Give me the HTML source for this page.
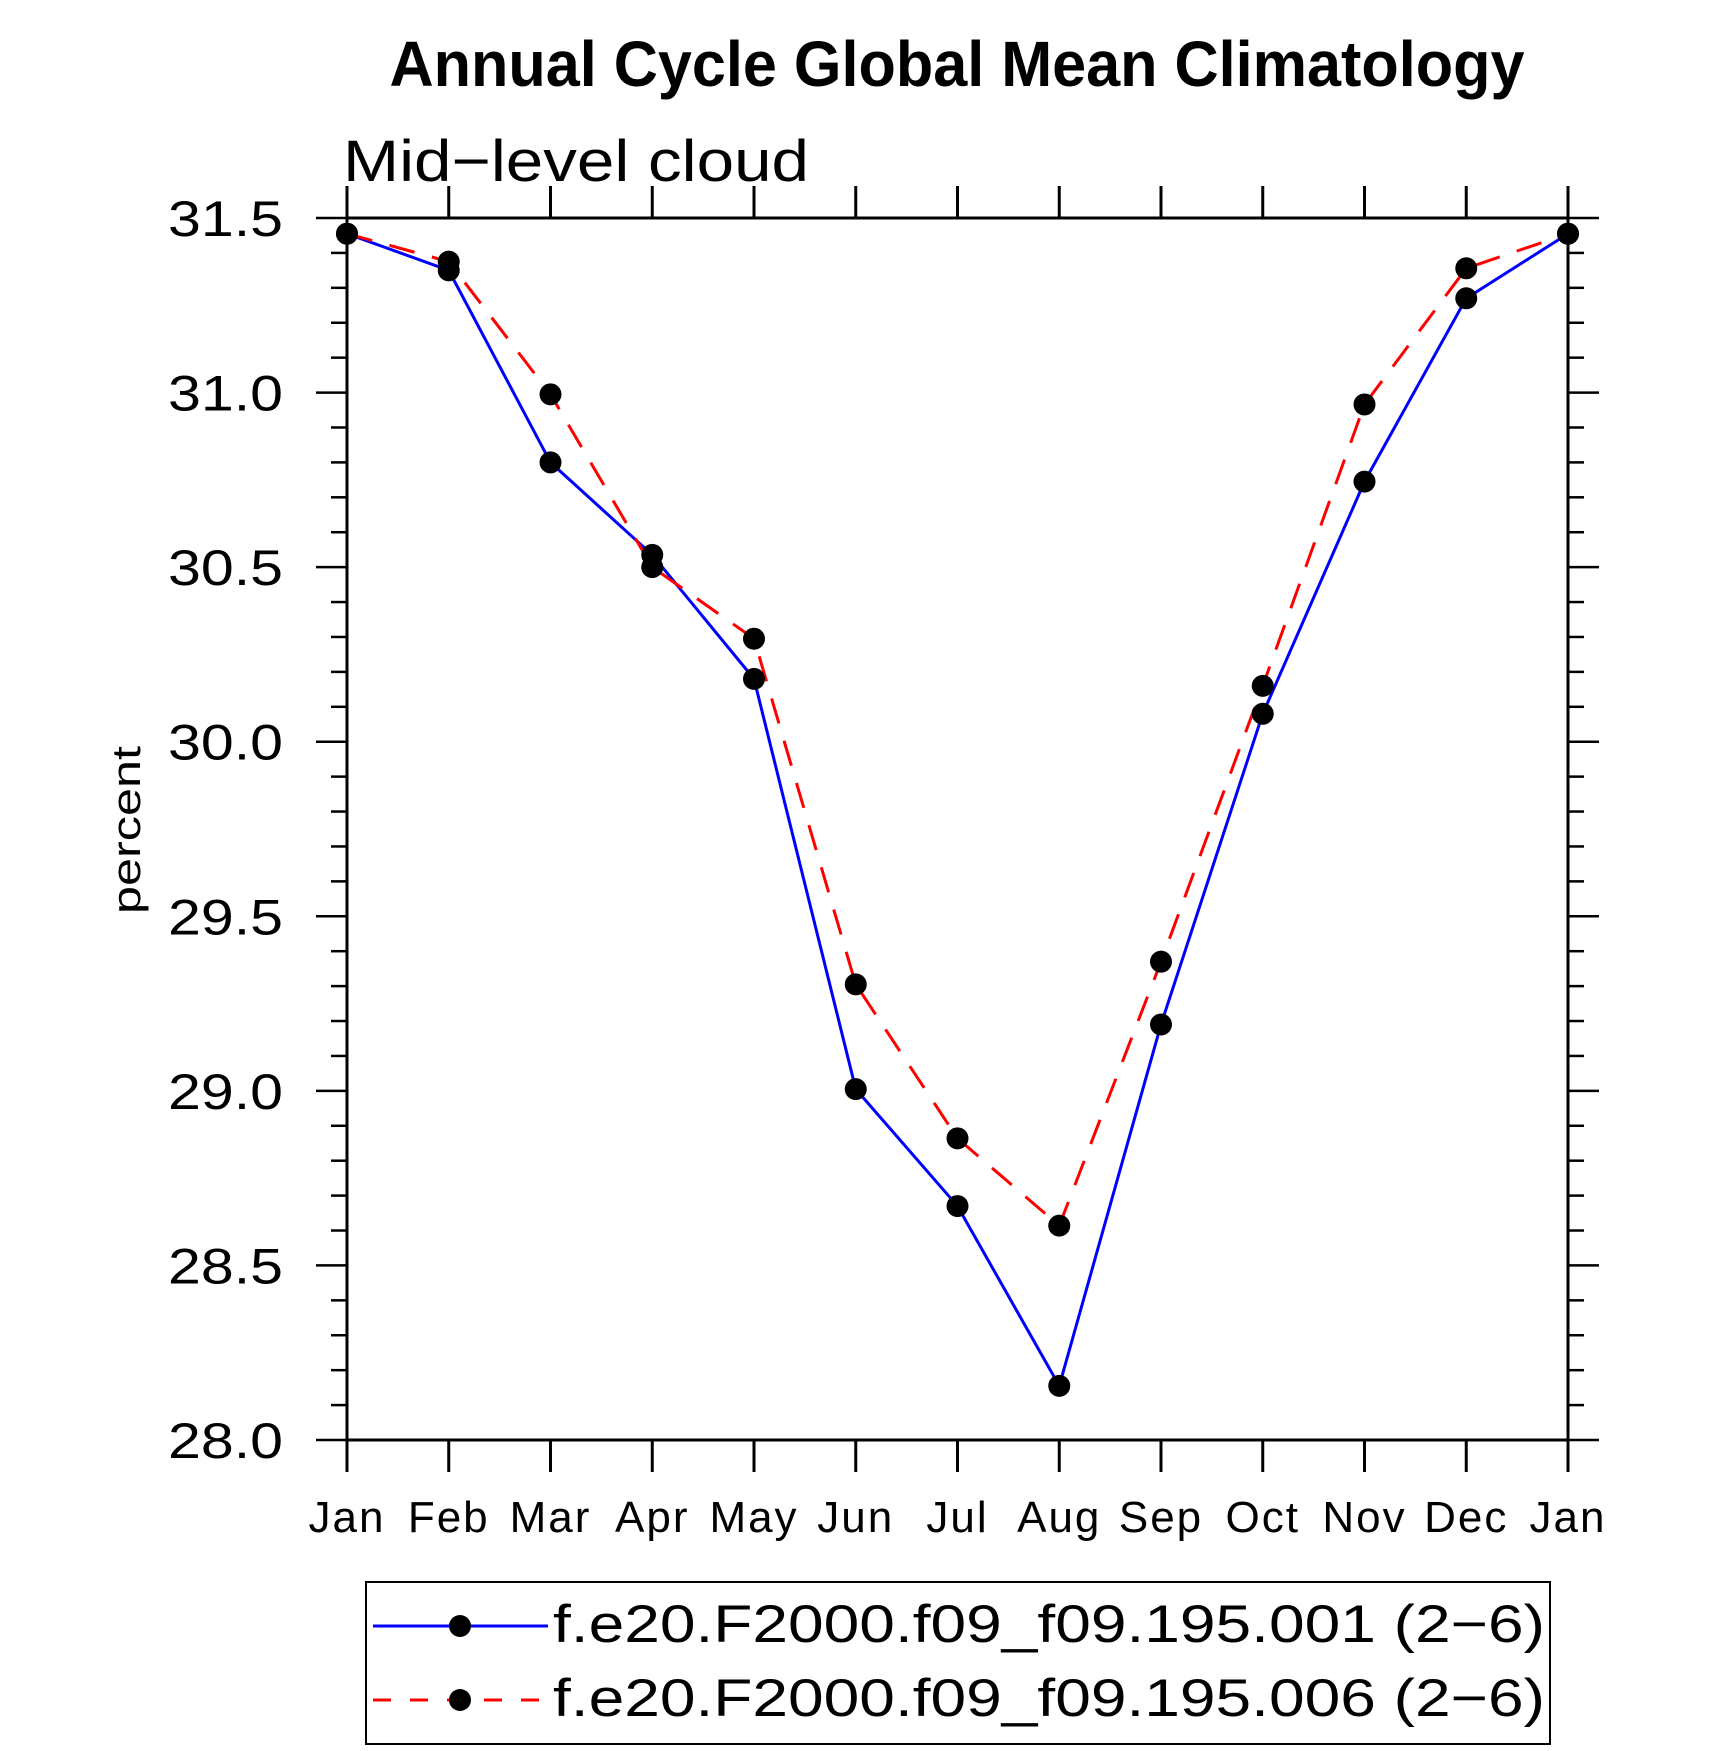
<!DOCTYPE html>
<html><head><meta charset="utf-8"><style>
html,body{margin:0;padding:0;background:#fff;}
svg{display:block;font-family:"Liberation Sans",sans-serif;}
</style></head><body>
<svg id="chart" width="1710" height="1751" viewBox="0 0 1710 1751">
<text x="957" y="86" text-anchor="middle" font-size="64" font-weight="bold" textLength="1135" lengthAdjust="spacingAndGlyphs">Annual Cycle Global Mean Climatology</text>
<text x="343" y="181" font-size="58" textLength="466" lengthAdjust="spacingAndGlyphs">Mid−level cloud</text>
<text transform="translate(140,830) rotate(-90)" text-anchor="middle" font-size="40" textLength="168" lengthAdjust="spacingAndGlyphs">percent</text>
<g id="axes"></g>
<g id="series"></g>
<g>
<rect x="366" y="1582" width="1184" height="162" fill="none" stroke="#000" stroke-width="2"/>
<line x1="373" y1="1626" x2="548" y2="1626" stroke="#0000ff" stroke-width="3"/>
<circle cx="460" cy="1626" r="11" fill="#000"/>
<text x="553" y="1642" font-size="53" textLength="992" lengthAdjust="spacingAndGlyphs">f.e20.F2000.f09_f09.195.001 (2−6)</text>
<line x1="373" y1="1700" x2="548" y2="1700" stroke="#ff0000" stroke-width="3" stroke-dasharray="18,19"/>
<circle cx="460" cy="1700" r="11" fill="#000"/>
<text x="553" y="1716" font-size="53" textLength="992" lengthAdjust="spacingAndGlyphs">f.e20.F2000.f09_f09.195.006 (2−6)</text>
</g>
</svg>
<script>
const months = ["Jan","Feb","Mar","Apr","May","Jun","Jul","Aug","Sep","Oct","Nov","Dec","Jan"];
const series001 = [31.455,31.35,30.80,30.535,30.18,29.005,28.67,28.155,29.19,30.08,30.745,31.27,31.455];
const series006 = [31.455,31.375,30.995,30.50,30.295,29.305,28.864,28.614,29.37,30.16,30.966,31.356,31.455];
const yTickLabels = ["28.0","28.5","29.0","29.5","30.0","30.5","31.0","31.5"];
const yMin = 28.0, yMax = 31.5;
const L = 347, R = 1568, T = 218, B = 1440;
const NS = "http://www.w3.org/2000/svg";
function xs(i){ return L + (R - L) * i / (months.length - 1); }
function ys(v){ return B - (B - T) * (v - yMin) / (yMax - yMin); }
function mk(tag, attrs, parent){ const e = document.createElementNS(NS, tag); for (const k in attrs) e.setAttribute(k, attrs[k]); parent.appendChild(e); return e; }
const axes = document.getElementById('axes');
const frame = mk('rect', {x:L, y:T, width:R-L, height:B-T, fill:'none', stroke:'#000', 'stroke-width':3}, axes);


months.forEach((m, i) => {
  const x = xs(i);
  const tb = mk('line', {x1:x, y1:B, x2:x, y2:B+32, stroke:'#000', 'stroke-width':3}, axes);
  
  
  const tt = mk('line', {x1:x, y1:T, x2:x, y2:T-32, stroke:'#000', 'stroke-width':3}, axes);
  
  
  const lb = mk('text', {x:x, y:1532, 'text-anchor':'middle', 'font-size':44, 'letter-spacing':2}, axes);
  lb.textContent = m;
  
  
});
for (let k = 0; k <= 35; k++) {
  const v = yMin + k * 0.1;
  const y = ys(v);
  const major = (k % 5 === 0);
  const len = major ? 31 : 16;
  const tl = mk('line', {x1:L-len, y1:y, x2:L, y2:y, stroke:'#000', 'stroke-width':2.5}, axes);
  
  
  const tr = mk('line', {x1:R, y1:y, x2:R+len, y2:y, stroke:'#000', 'stroke-width':2.5}, axes);
  
  
}
yTickLabels.forEach(s => {
  const t = mk('text', {x:168, y:ys(parseFloat(s))+18, 'font-size':50, textLength:115, lengthAdjust:'spacingAndGlyphs'}, axes);
  t.textContent = s;
  
  
});
const sg = document.getElementById('series');
function drawSeries(vals, color, dash, name){
  const pts = vals.map((v, i) => xs(i) + ',' + ys(v)).join(' ');
  const pl = mk('polyline', {points:pts, fill:'none', stroke:color, 'stroke-width':3}, sg);
  if (dash) pl.setAttribute('stroke-dasharray', dash);
  
  
}
function drawMarkers(vals, name){
  vals.forEach((v, i) => {
    const c = mk('circle', {cx:xs(i), cy:ys(v), r:11, fill:'#000'}, sg);
    
    
  });
}
drawSeries(series001, '#0000ff', null, 'series-001');
drawSeries(series006, '#ff0000', '26,18', 'series-006');
drawMarkers(series001, 'series-001');
drawMarkers(series006, 'series-006');
</script>
</body></html>
